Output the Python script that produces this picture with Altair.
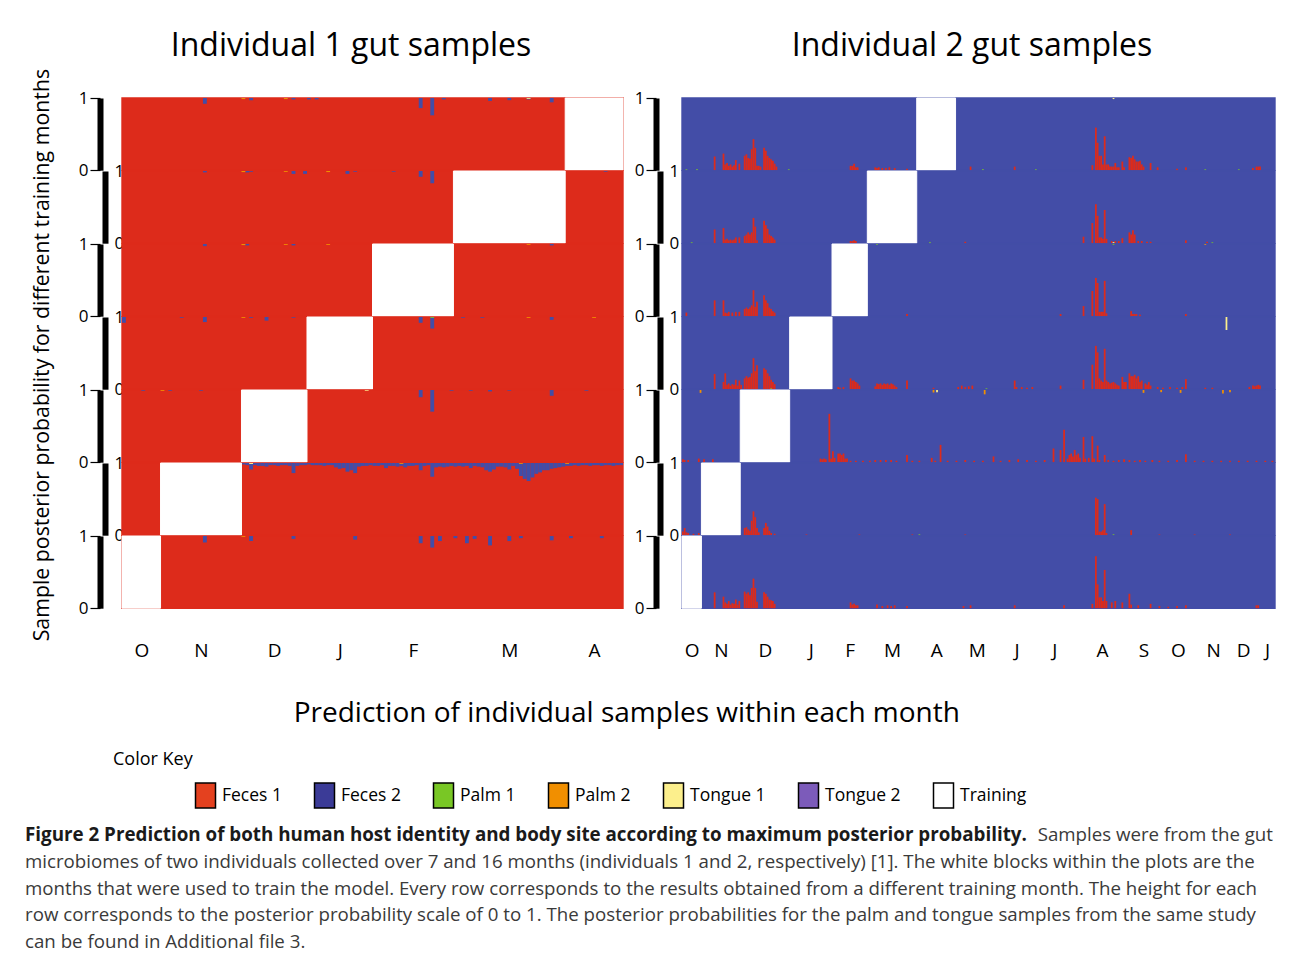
import json
import altair as alt
import pandas as pd

FONT = "Open Sans"

CLASSES = ["Feces 1", "Feces 2", "Palm 1", "Palm 2", "Tongue 1", "Tongue 2", "Training"]
PLOT_COLORS = ["#dd2b1b", "#434da7", "#79c725", "#f18f00", "#fcef8c", "#7c5bba", "#ffffff"]
KEY_COLORS = ["#e4411f", "#3b3b97", "#79c725", "#f18f00", "#fcef8c", "#7c5bba", "#ffffff"]

# ---------------- Individual 1 ----------------
IND1_MONTHS = ["O", "N", "D", "J", "F", "M", "A"]
IND1_COUNTS = [10, 21, 17, 17, 21, 29, 15]
IND1_TRAIN = [6, 5, 4, 3, 2, 1, 0]          # training month (index) of each row, top to bottom

# Feces 2 (blue) share at top of each sample bar, (sample index, probability)
IND1_BLUE = [
    [(21, .08), (31, .01), (33, .03), (42, .01), (44, .02), (48, .02), (50, .02), (77, .14), (80, .24),
     (83, .02), (95, .04), (100, .03), (105, .02), (111, .06)],
    [(21, .02), (32, .02), (33, .01), (44, .04), (47, .04), (58, .04), (60, .01), (70, .01), (77, .08),
     (80, .17), (125, .01)],
    [(21, .03), (32, .02), (44, .02), (111, .02)],
    [(0, .08), (15, .01), (21, .07), (33, .01), (37, .05), (44, .01), (77, .08), (80, .16), (88, .01),
     (93, .01), (111, .04)],
    [(5, .01), (12, .01), (20, .01), (77, .1), (80, .3), (85, .01), (90, .01), (95, .02), (100, .01),
     (111, .08), (120, .01)],
    [],
    [(21, .09), (33, .07), (44, .04), (60, .05), (77, .1), (80, .16), (82, .07), (86, .03), (89, .1),
     (91, .04), (95, .13), (100, .07), (103, .03), (111, .06), (116, .03), (124, .03)],
]
# row 6 (training N): blue share for samples 31..129
IND1_ROW6_START = 31
IND1_ROW6_BLUE = [
    .02, .03, .09, .03, .04, .04, .05, .03, .03, .04, .03, .03, .04, .14, .04, .03, .03, .02, .03, .03,
    .03, .04, .03, .03, .06, .08, .07, .12, .10, .14, .05, .04, .04, .03, .04, .04, .03, .07, .04, .04,
    .05, .04, .06, .04, .04, .03, .10, .04, .03, .19, .06, .05, .06, .05, .04, .05, .04, .05, .04, .07,
    .04, .05, .06, .10, .12, .09, .05, .05, .06, .09, .04, .08, .18, .22, .25, .20, .15, .13, .10, .10,
    .08, .07, .06, .05, .04, .04, .03, .04, .03, .03, .04, .03, .03, .04, .03, .03, .04, .03, .03,
]
# other body-site calls (sample index, probability, class) at the top of the bar
IND1_OTHER = [
    [(31, .015, "Palm 2"), (42, .015, "Palm 2"), (105, .012, "Tongue 1")],
    [(31, .015, "Palm 2"), (42, .012, "Palm 2"), (53, .015, "Palm 2")],
    [(31, .015, "Palm 2"), (42, .012, "Palm 2"), (53, .012, "Palm 2"), (105, .012, "Palm 2")],
    [(31, .012, "Palm 2"), (64, .01, "Palm 2"), (80, .012, "Palm 1"), (105, .012, "Palm 2"), (122, .012, "Palm 2")],
    [(10, .012, "Palm 2"), (63, .01, "Tongue 1")],
    [(33, .015, "Tongue 1"), (72, .012, "Palm 2"), (103, .012, "Palm 2"), (115, .012, "Palm 2")],
    [(31, .012, "Palm 2")],
]

# ---------------- Individual 2 ----------------
IND2_MONTHS = ["O", "N", "D", "J", "F", "M", "A", "M", "J", "J", "A", "S", "O", "N", "D", "J"]
IND2_COUNTS = [11, 22, 28, 24, 20, 28, 22, 24, 21, 22, 32, 15, 24, 16, 18, 9]
IND2_TRAIN = [6, 5, 4, 3, 2, 1, 0]

# Feces 1 (red) share at the bottom of each sample bar, (sample index, probability)
IND2_RED = [
    [(18, .19), (23, .23), (24, .08), (25, .1), (26, .06), (27, .08), (28, .05), (29, .07), (30, .14), (32, .09),
     (35, .2), (36, .22), (37, .17), (38, .16), (39, .29), (40, .43), (41, .31), (42, .06), (43, .06), (44, .05),
     (46, .31), (47, .27), (48, .2), (49, .17), (50, .15), (51, .13), (52, .09), (53, .05), (95, .06), (96, .06),
     (97, .09), (98, .04), (99, .04), (109, .04), (110, .03), (111, .04), (113, .03), (115, .03), (117, .04),
     (120, .03), (127, .02), (163, .05), (188, .05), (232, .07), (234, .59), (235, .38), (236, .2), (237, .2),
     (238, .08), (239, .47), (240, .08), (241, .08), (242, .05), (243, .05), (244, .05), (245, .1), (246, .04),
     (247, .04), (249, .12), (250, .04), (253, .18), (254, .17), (255, .2), (256, .15), (257, .12), (258, .12),
     (259, .13), (260, .08), (261, .05), (265, .1), (269, .04), (280, .02), (285, .04), (323, .03), (325, .05),
     (326, .05), (327, .05)],
    [(18, .19), (23, .21), (24, .05), (25, .06), (26, .04), (27, .05), (28, .04), (29, .05), (30, .08), (32, .08),
     (35, .1), (36, .12), (37, .15), (38, .12), (39, .15), (40, .35), (41, .23), (42, .04), (46, .31), (47, .25),
     (48, .2), (49, .12), (50, .1), (51, .08), (52, .05), (95, .03), (96, .03), (97, .04), (98, .03), (160, .02),
     (227, .09), (232, .28), (234, .54), (235, .38), (236, .08), (237, .08), (238, .06), (239, .46), (240, .06),
     (243, .03), (245, .03), (247, .03), (249, .07), (253, .15), (254, .12), (255, .18), (256, .12), (258, .03),
     (260, .03), (263, .02), (265, .02), (285, .04), (297, .02)],
    [(2, .05), (18, .22), (23, .22), (24, .05), (25, .04), (26, .06), (28, .05), (30, .06), (32, .06), (35, .1),
     (36, .12), (37, .1), (38, .12), (39, .15), (40, .36), (41, .13), (42, .2), (46, .29), (47, .22), (48, .18),
     (49, .12), (50, .1), (51, .07), (52, .05), (127, .03), (214, .03), (227, .14), (232, .35), (234, .53),
     (235, .46), (236, .06), (237, .06), (238, .06), (239, .49), (240, .04), (254, .07), (255, .03), (256, .03),
     (257, .03), (259, .02), (285, .03)],
    [(18, .21), (23, .1), (24, .22), (25, .06), (26, .08), (27, .05), (28, .07), (29, .06), (30, .13), (31, .05),
     (32, .12), (33, .06), (35, .15), (36, .18), (37, .16), (38, .17), (39, .22), (40, .43), (41, .25), (42, .33),
     (46, .29), (47, .27), (48, .22), (49, .18), (50, .13), (51, .1), (52, .07), (88, .03), (89, .02), (91, .03),
     (95, .15), (96, .12), (97, .12), (98, .1), (99, .08), (100, .05), (109, .04), (110, .08), (111, .07),
     (112, .08), (113, .06), (114, .08), (115, .07), (116, .08), (117, .06), (118, .08), (119, .07), (120, .05),
     (121, .03), (127, .12), (142, .02), (156, .03), (158, .05), (160, .03), (162, .04), (164, .05), (188, .12),
     (189, .03), (192, .03), (195, .02), (198, .03), (214, .05), (227, .13), (232, .34), (234, .6), (235, .51),
     (236, .15), (237, .12), (238, .1), (239, .56), (240, .12), (241, .1), (242, .08), (243, .09), (244, .1),
     (245, .08), (246, .06), (247, .05), (249, .17), (250, .1), (251, .1), (253, .22), (254, .18), (255, .18),
     (256, .2), (257, .15), (258, .18), (259, .1), (260, .12), (262, .08), (263, .06), (264, .1), (265, .05),
     (269, .03), (272, .02), (276, .03), (280, .02), (283, .03), (285, .14), (296, .02), (300, .02), (321, .03),
     (323, .05), (324, .04), (325, .05), (326, .06), (327, .05)],
    [(0, .04), (1, .03), (3, .03), (9, .05), (12, .04), (17, .04), (78, .05), (79, .04), (80, .05), (81, .04),
     (83, .67), (84, .05), (85, .15), (86, .06), (88, .12), (89, .12), (90, .1), (91, .12), (92, .05), (93, .05),
     (95, .02), (98, .02), (102, .02), (106, .02), (109, .03), (112, .03), (115, .03), (118, .03), (121, .02),
     (127, .1), (130, .02), (134, .02), (141, .06), (143, .02), (146, .24), (150, .02), (155, .02), (160, .03),
     (165, .02), (170, .02), (176, .08), (180, .02), (185, .03), (190, .04), (195, .03), (200, .02), (205, .03),
     (210, .19), (214, .17), (216, .45), (218, .05), (219, .1), (220, .12), (221, .08), (222, .17), (223, .1),
     (224, .12), (225, .06), (227, .35), (228, .05), (230, .06), (232, .36), (233, .05), (235, .23), (236, .03),
     (239, .1), (241, .03), (244, .02), (247, .03), (250, .04), (253, .03), (256, .02), (259, .03), (262, .02),
     (266, .03), (270, .02), (275, .02), (280, .03), (285, .11), (290, .02), (295, .02), (300, .02), (305, .02),
     (310, .02), (315, .02), (320, .02), (325, .02), (330, .02), (334, .02)],
    [(0, .05), (1, .1), (2, .04), (3, .03), (6, .02), (9, .03), (35, .1), (36, .11), (37, .08), (38, .06),
     (39, .2), (40, .33), (41, .25), (42, .1), (43, .04), (46, .1), (47, .17), (48, .12), (49, .06), (50, .03),
     (52, .02), (70, .01), (100, .01), (130, .01), (160, .01), (234, .52), (235, .5), (236, .05), (237, .05),
     (238, .07), (239, .43), (240, .03), (254, .07), (270, .01), (290, .01), (310, .01)],
    [(18, .22), (23, .16), (24, .08), (25, .06), (26, .1), (27, .05), (28, .07), (29, .06), (30, .12), (31, .05),
     (32, .1), (35, .23), (36, .2), (37, .22), (38, .18), (39, .28), (40, .41), (41, .28), (42, .09), (46, .22),
     (47, .2), (48, .16), (49, .12), (50, .11), (51, .1), (52, .06), (95, .08), (96, .05), (97, .06), (98, .04),
     (99, .04), (110, .05), (113, .03), (116, .04), (118, .03), (120, .04), (127, .03), (159, .03), (163, .04),
     (188, .04), (216, .04), (232, .06), (234, .72), (235, .33), (236, .15), (237, .15), (238, .1), (239, .53),
     (240, .1), (243, .08), (245, .1), (249, .08), (253, .2), (254, .05), (258, .04), (265, .06), (270, .03),
     (275, .02), (280, .03), (285, .04), (325, .04), (326, .04)],
]
# other body-site calls (sample index, probability, class, end of bar)
IND2_OTHER = [
    [(2, .012, "Palm 1", "bottom"), (8, .012, "Palm 1", "bottom"), (60, .012, "Palm 1", "bottom"),
     (170, .012, "Palm 1", "bottom"), (200, .012, "Palm 1", "bottom"), (244, .015, "Tongue 1", "top"),
     (296, .012, "Palm 1", "bottom"), (315, .012, "Palm 1", "bottom")],
    [(5, .012, "Palm 1", "bottom"), (140, .012, "Palm 1", "bottom"), (244, .015, "Tongue 1", "bottom"),
     (300, .012, "Palm 1", "bottom")],
    [(110, .012, "Palm 1", "top"), (244, .012, "Palm 1", "top"), (296, .012, "Palm 2", "top")],
    [(308, .18, "Tongue 1", "top"), (50, .012, "Palm 1", "bottom"), (172, .012, "Palm 1", "bottom")],
    [(10, .04, "Palm 2", "top"), (142, .035, "Palm 2", "top"), (144, .03, "Tongue 1", "top"),
     (171, .06, "Palm 2", "top"), (261, .04, "Palm 2", "top"), (271, .03, "Palm 2", "top"),
     (282, .04, "Palm 2", "top"), (306, .05, "Palm 2", "top"), (310, .03, "Palm 2", "top")],
    [(134, .012, "Palm 1", "bottom"), (244, .012, "Palm 1", "bottom")],
    [],
]

TITLE1 = "Individual 1 gut samples"
TITLE2 = "Individual 2 gut samples"
Y_TITLE = "Sample posterior probability for different training months"
X_TITLE = "Prediction of individual samples within each month"
KEY_TITLE = "Color Key"
CAPTION_BOLD = "Figure 2 Prediction of both human host identity and body site according to maximum posterior probability."
CAPTION_TAIL = "Samples were from the gut"
CAPTION_LINES = [
    "microbiomes of two individuals collected over 7 and 16 months (individuals 1 and 2, respectively) [1]. The white blocks within the plots are the",
    "months that were used to train the model. Every row corresponds to the results obtained from a different training month. The height for each",
    "row corresponds to the posterior probability scale of 0 to 1. The posterior probabilities for the palm and tongue samples from the same study",
    "can be found in Additional file 3.",
]


def starts_of(counts):
    s, acc = [], 0
    for c in counts:
        s.append(acc)
        acc += c
    return s


def build_rows(counts, train, main, main_cls, main_top, other, dominant):
    n = sum(counts)
    st = starts_of(counts)
    rows = []
    for r in range(7):
        base = [{"x0": 0, "x1": n, "y0": 0, "y1": 1, "cls": dominant}]
        sp = []
        for idx, f in main[r]:
            y0, y1 = (1 - f, 1) if main_top else (0, f)
            sp.append({"x0": idx, "x1": idx + 1, "y0": y0, "y1": y1, "cls": main_cls})
        for item in other[r]:
            idx, f, cls = item[0], item[1], item[2]
            pos = item[3] if len(item) > 3 else "top"
            y0, y1 = (1 - f, 1) if pos == "top" else (0, f)
            sp.append({"x0": idx, "x1": idx + 1, "y0": y0, "y1": y1, "cls": cls})
        m = train[r]
        tr = [{"x0": st[m], "x1": st[m] + counts[m], "y0": 0, "y1": 1, "cls": "Training"}]
        rows.append((base, sp, tr))
    return rows, n


def yaxis(outer, offset):
    common = dict(values=[0, 1], format="d", grid=False, title=None, domainColor="black", domainWidth=6,
                  labelFont=FONT, labelFontSize=17, labelColor="black", offset=offset)
    if outer:
        return alt.Axis(**common, tickColor="black", tickSize=10, tickWidth=1.2, labelPadding=2)
    return alt.Axis(**common, ticks=False, tickSize=0, labelAlign="left", labelPadding=-9)


def month_axis(months, counts):
    st = starts_of(counts)
    centers = [st[i] + counts[i] / 2 for i in range(len(counts))]
    expr = f"{json.dumps(months)}[indexof({json.dumps(centers)}, datum.value)]"
    return alt.Axis(values=centers, labelExpr=expr, domain=False, ticks=False, grid=False, title=None,
                    labelFont=FONT, labelFontSize=19, labelColor="black", labelPadding=33,
                    labelFlush=False, labelOverlap=False)


def row_chart(base, sp, tr, n, w, h, ya, xa):
    x = alt.X("x0:Q", scale=alt.Scale(domain=[0, n], nice=False, zero=False), axis=xa)
    y = alt.Y("y0:Q", scale=alt.Scale(domain=[0, 1], nice=False, zero=False), axis=ya)
    color = alt.Color("cls:N", scale=alt.Scale(domain=CLASSES, range=PLOT_COLORS), legend=None)
    stroke = alt.Stroke("cls:N", scale=alt.Scale(domain=CLASSES, range=PLOT_COLORS), legend=None)
    layers = [
        alt.Chart(pd.DataFrame(base)).mark_rect(strokeWidth=1.4).encode(
            x=x, x2="x1", y=y, y2="y1", color=color, stroke=stroke),
        alt.Chart(pd.DataFrame(sp)).mark_rect().encode(x=x, x2="x1", y=y, y2="y1", color=color),
        alt.Chart(pd.DataFrame(tr)).mark_rect(strokeWidth=1).encode(
            x=x, x2="x1", y=y, y2="y1", color=color, stroke=stroke),
    ]
    return alt.layer(*layers).properties(width=w, height=h)


def panel(title, rows, n, w, h, outer_off, inner_off, months, counts, dx):
    charts = []
    for r, (b, s, t) in enumerate(rows):
        outer = r % 2 == 0
        ya = yaxis(outer, outer_off if outer else inner_off)
        xa = month_axis(months, counts) if r == 6 else None
        charts.append(row_chart(b, s, t, n, w, h, ya, xa))
    return alt.vconcat(*charts, spacing=0, bounds="flush",
                       title=alt.TitleParams(title, font=FONT, fontSize=32, fontWeight="normal", color="black",
                                             anchor="middle", offset=26, dx=dx))


rows1, n1 = build_rows(IND1_COUNTS, IND1_TRAIN,
                       [lst if i != 5 else [(IND1_ROW6_START + k, v) for k, v in enumerate(IND1_ROW6_BLUE)]
                        for i, lst in enumerate(IND1_BLUE)],
                       "Feces 2", True, IND1_OTHER, "Feces 1")
rows2, n2 = build_rows(IND2_COUNTS, IND2_TRAIN, IND2_RED, "Feces 1", False, IND2_OTHER, "Feces 2")

H = 72.2
left = panel(TITLE1, rows1, n1, 501, H, 22, 17, IND1_MONTHS, IND1_COUNTS, 0)
right = panel(TITLE2, rows2, n2, 593, H, 26, 22, IND2_MONTHS, IND2_COUNTS, 17)

hc = alt.hconcat(left, right, spacing=10,
                 title=alt.TitleParams(Y_TITLE, orient="left", anchor="middle", font=FONT, fontSize=21.3,
                                       fontWeight="normal", color="black", offset=25, dx=-10))
mid = alt.vconcat(hc, title=alt.TitleParams(X_TITLE, orient="bottom", anchor="middle", font=FONT, fontSize=28,
                                            fontWeight="normal", color="black", offset=40, dx=-27))

key_df = pd.DataFrame({"cls": CLASSES, "v": [5] * len(CLASSES)})
legend_chart = alt.Chart(key_df).mark_square(clip=True, stroke="black", strokeWidth=1.5, opacity=1).encode(
    x=alt.X("v:Q", scale=alt.Scale(domain=[0, 1]), axis=None),
    y=alt.Y("v:Q", scale=alt.Scale(domain=[0, 1]), axis=None),
    color=alt.Color("cls:N", scale=alt.Scale(domain=CLASSES, range=KEY_COLORS),
                    legend=alt.Legend(orient="none", legendX=70, legendY=7, direction="horizontal", title=None,
                                      symbolType="M-0.8,-1H0.8V1H-0.8Z", symbolSize=625,
                                      symbolStrokeColor="black", symbolStrokeWidth=1.5, symbolOpacity=1,
                                      labelFont=FONT, labelFontSize=17.5, labelColor="black", labelOffset=3,
                                      columnPadding=29, labelLimit=0)),
).properties(width=900, height=26,
             title=alt.TitleParams(KEY_TITLE, anchor="start", font=FONT, fontSize=18, fontWeight="normal",
                                   color="black", offset=6, dx=-9))

cap_w = 1151
cap_x0 = -97
bold_df = pd.DataFrame({"i": [0], "t": [CAPTION_BOLD]})
tail_df = pd.DataFrame({"i": [0], "t": [CAPTION_TAIL]})
lines_df = pd.DataFrame({"i": list(range(1, len(CAPTION_LINES) + 1)), "t": CAPTION_LINES})
ycap = alt.Y("i:O", axis=None, scale=alt.Scale(domain=list(range(5))))
cap_bold = alt.Chart(bold_df).mark_text(align="left", baseline="middle", font=FONT, fontSize=18.8,
                                        fontWeight="bold", color="#1a1a1a").encode(
    x=alt.value(cap_x0), y=ycap, text="t:N")
cap_tail = alt.Chart(tail_df).mark_text(align="right", baseline="middle", font=FONT, fontSize=18.7,
                                        color="#3a3a3a").encode(x=alt.value(cap_w), y=ycap, text="t:N")
cap_lines = alt.Chart(lines_df).mark_text(align="left", baseline="middle", font=FONT, fontSize=18.7,
                                          color="#3a3a3a").encode(x=alt.value(cap_x0), y=ycap, text="t:N")
caption = alt.layer(cap_bold, cap_tail, cap_lines).properties(width=cap_w, height=133)

bottom = alt.vconcat(legend_chart, caption, spacing=11).resolve_scale(color="independent")

chart = alt.vconcat(mid, bottom, spacing=22).resolve_scale(color="independent").properties(
    padding={"left": 17, "top": 22, "right": 0, "bottom": 0},
    background="white",
).configure_view(stroke=None)

chart.save("out.html", embed_options={"renderer": "svg", "actions": False})
